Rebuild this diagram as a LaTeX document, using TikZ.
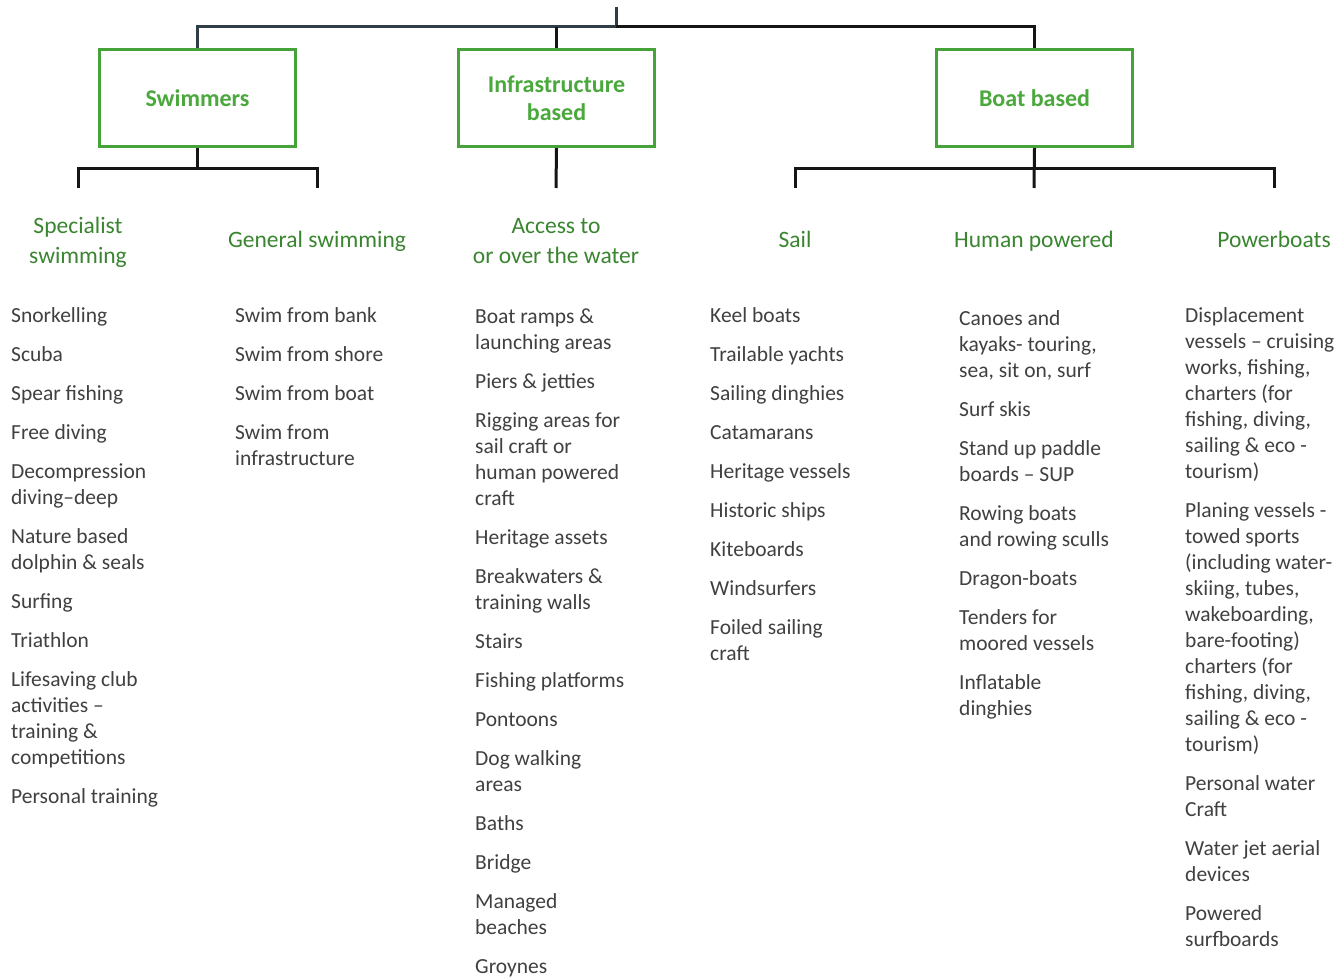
\documentclass[tikz,border=0pt]{standalone}
\usepackage{fontspec}
\setmainfont{Carlito}
\usetikzlibrary{calc}

\definecolor{boxgreen}{HTML}{45A33A}
\definecolor{boldgreen}{HTML}{4AA83C}
\definecolor{headgreen}{HTML}{3A8530}
\definecolor{bodygrey}{HTML}{404040}
\definecolor{linek}{HTML}{151515}
\definecolor{slate}{HTML}{2F3D46}

% zero-width struts that fix the height of a node's first line
\newcommand\firstln{\rule{0pt}{20pt}}
\newcommand\headln{\rule{0pt}{22pt}}

\tikzset{
  conn/.style={line width=3pt, draw=linek},
  catbox/.style={draw=boxgreen, line width=3pt, minimum width=196pt,
    minimum height=97pt, inner sep=0pt, align=center, text=boldgreen,
    font=\bfseries\fontsize{24}{28}\selectfont},
  grouphead/.style={anchor=north, inner sep=0pt, align=center,
    text=headgreen, font=\fontsize{23.5}{30}\selectfont},
  itemcol/.style={anchor=north west, inner sep=0pt, align=left,
    text=bodygrey, font=\fontsize{21.5}{26}\selectfont},
}

\begin{document}
\begin{tikzpicture}[x=1pt, y=-1pt]
\useasboundingbox[fill=white] (0,0) rectangle (1335,979);

% top level categories
\node[catbox] (sw)   at (197.5,98) {Swimmers};
\node[catbox] (inf)  at (556.5,98) {Infrastructure\\based};
\node[catbox] (boat) at (1034.5,98) {Boat based};

% tree above the categories
\coordinate (root) at (616,7);
\coordinate (hub)  at (616,27);
\draw[conn, draw=slate] (root) -- (hub) -| (sw.north);
\draw[conn] (hub) -| (boat.north);
\draw[conn] (inf.north) -- (inf.north |- hub);

% group headings
\node[grouphead] (h1) at (78,211)   {\headln Specialist\\swimming};
\node[grouphead] (h2) at (317,225)  {\headln General swimming};
\node[grouphead] (h3) at (556,211)  {\headln Access to\\or over the water};
\node[grouphead] (h4) at (795,225)  {\headln Sail};
\node[grouphead] (h5) at (1034,225) {\headln Human powered};
\node[grouphead] (h6) at (1274,225) {\headln Powerboats};

% branch ends above the headings
\coordinate (e1) at (78,188);
\coordinate (e2) at (317,188);
\coordinate (e3) at (556,188);
\coordinate (e4) at (795,188);
\coordinate (e5) at (1034,188);
\coordinate (e6) at (1274,188);
\coordinate (swj)   at ($(sw.south)+(0,20)$);
\coordinate (boatj) at ($(boat.south)+(0,20)$);

\draw[conn] (sw.south) -- (swj);
\draw[conn] (e1) |- (swj) -| (e2);
\draw[conn] (inf.south) -- (e3);
\draw[conn] (boat.south) -- (e5);
\draw[conn] (e4) |- (boatj) -| (e6);

% activity lists
\node[itemcol] (c1) at (11,302) {\firstln Snorkelling\\[13pt]
Scuba\\[13pt]
Spear fishing\\[13pt]
Free diving\\[13pt]
Decompression\\diving–deep\\[13pt]
Nature based\\dolphin \& seals\\[13pt]
Surfing\\[13pt]
Triathlon\\[13pt]
Lifesaving club\\activities –\\training \&\\competitions\\[13pt]
Personal training};

\node[itemcol] (c2) at (235,302) {\firstln Swim from bank\\[13pt]
Swim from shore\\[13pt]
Swim from boat\\[13pt]
Swim from\\infrastructure};

\node[itemcol] (c3) at (475,303) {\firstln Boat ramps \&\\launching areas\\[13pt]
Piers \& jetties\\[13pt]
Rigging areas for\\sail craft or\\human powered\\craft\\[13pt]
Heritage assets\\[13pt]
Breakwaters \&\\training walls\\[13pt]
Stairs\\[13pt]
Fishing platforms\\[13pt]
Pontoons\\[13pt]
Dog walking\\areas\\[13pt]
Baths\\[13pt]
Bridge\\[13pt]
Managed\\beaches\\[13pt]
Groynes};

\node[itemcol] (c4) at (710,302) {\firstln Keel boats\\[13pt]
Trailable yachts\\[13pt]
Sailing dinghies\\[13pt]
Catamarans\\[13pt]
Heritage vessels\\[13pt]
Historic ships\\[13pt]
Kiteboards\\[13pt]
Windsurfers\\[13pt]
Foiled sailing\\craft};

\node[itemcol] (c5) at (959,305) {\firstln Canoes and\\kayaks- touring,\\sea, sit on, surf\\[13pt]
Surf skis\\[13pt]
Stand up paddle\\boards – SUP\\[13pt]
Rowing boats\\and rowing sculls\\[13pt]
Dragon-boats\\[13pt]
Tenders for\\moored vessels\\[13pt]
Inflatable\\dinghies};

\node[itemcol] (c6) at (1185,302) {\firstln Displacement\\vessels – cruising\\works, fishing,\\charters (for\\fishing, diving,\\sailing \& eco -\\tourism)\\[13pt]
Planing vessels -\\towed sports\\(including water-\\skiing, tubes,\\wakeboarding,\\bare-footing)\\charters (for\\fishing, diving,\\sailing \& eco -\\tourism)\\[13pt]
Personal water\\Craft\\[13pt]
Water jet aerial\\devices\\[13pt]
Powered\\surfboards};
\end{tikzpicture}
\end{document}
